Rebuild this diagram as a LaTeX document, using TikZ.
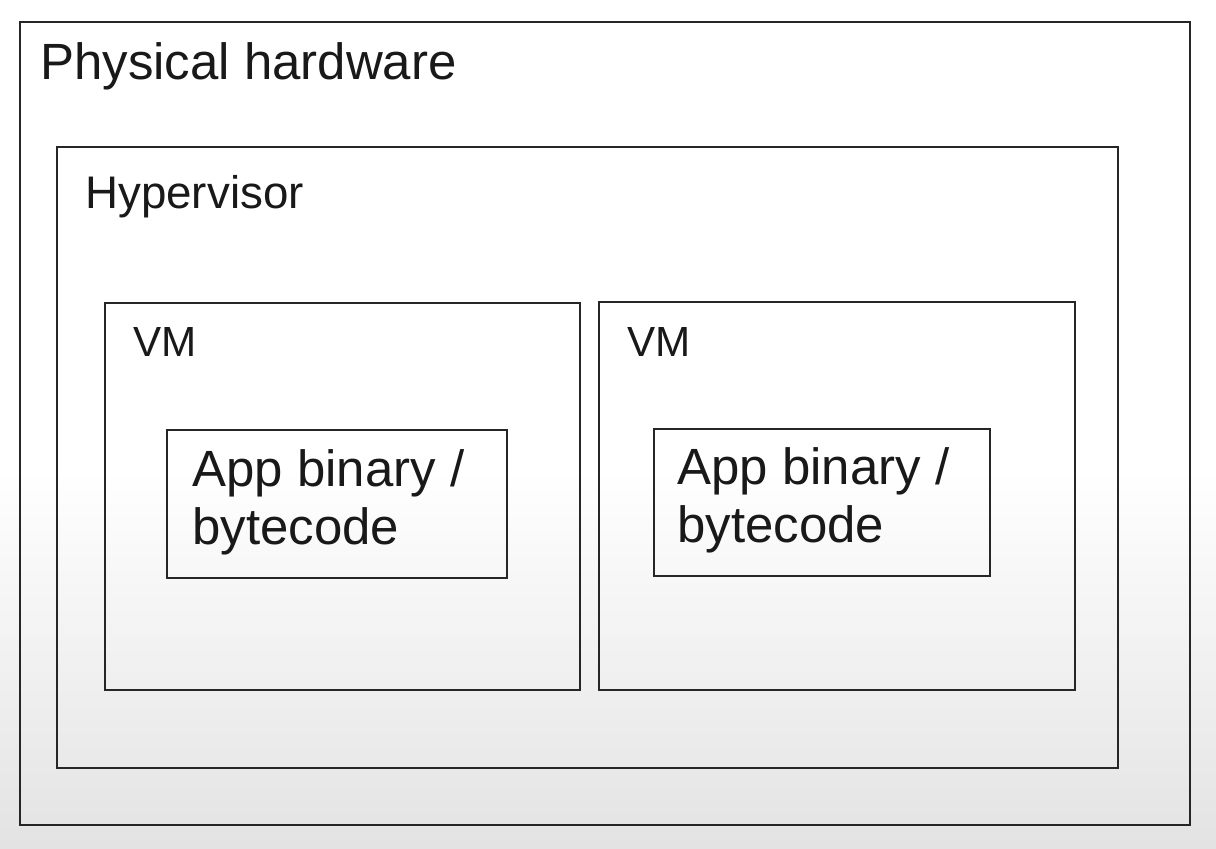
\documentclass[tikz,border=0pt]{standalone}
\usepackage{fontspec}
\setmainfont{Liberation Sans}
\usetikzlibrary{fit}
\begin{document}
\begin{tikzpicture}[x=0.02cm,y=-0.02cm,
  box/.style={draw=black!85, line width=1.1pt, inner sep=0pt, fill=none},
  lbl/.style={anchor=base west, inner sep=0pt, text=black!90},
  big/.style={lbl, font=\fontsize{29}{34}\selectfont},
  mid/.style={lbl, font=\fontsize{26}{31}\selectfont},
  vml/.style={lbl, font=\fontsize{24}{29}\selectfont},
  app/.style={lbl, font=\fontsize{29}{34}\selectfont, align=left}]
\useasboundingbox (0,0) rectangle (1216,848);
\fill[white] (0,0) rectangle (1216,470);
\shade[top color=white, bottom color=black!11] (0,469) rectangle (1216,848);
% boxes
\node[box, fit={(20,22) (1190,825)}] (hw) {};
\node[box, fit={(57,147) (1118,768)}] (hyp) {};
\node[box, fit={(105,303) (580,690)}] (vm1) {};
\node[box, fit={(599,302) (1075,690)}] (vm2) {};
\node[box, fit={(167,430) (507,578)}] (app1) {};
\node[box, fit={(654,429) (990,576)}] (app2) {};
% labels
\node[big] (hwl) at (40,80) {Physical hardware};
\node[mid] (hypl) at (85,208) {Hypervisor};
\node[vml] (vm1l) at (133,356) {VM};
\node[vml] (vm2l) at (627,356) {VM};
\node[app] (a1l1) at (192,486) {App binary /};
\node[app] (a1l2) at (192,544) {bytecode};
\node[app] (a2l1) at (677,484) {App binary /};
\node[app] (a2l2) at (677,542) {bytecode};
\end{tikzpicture}
\end{document}
